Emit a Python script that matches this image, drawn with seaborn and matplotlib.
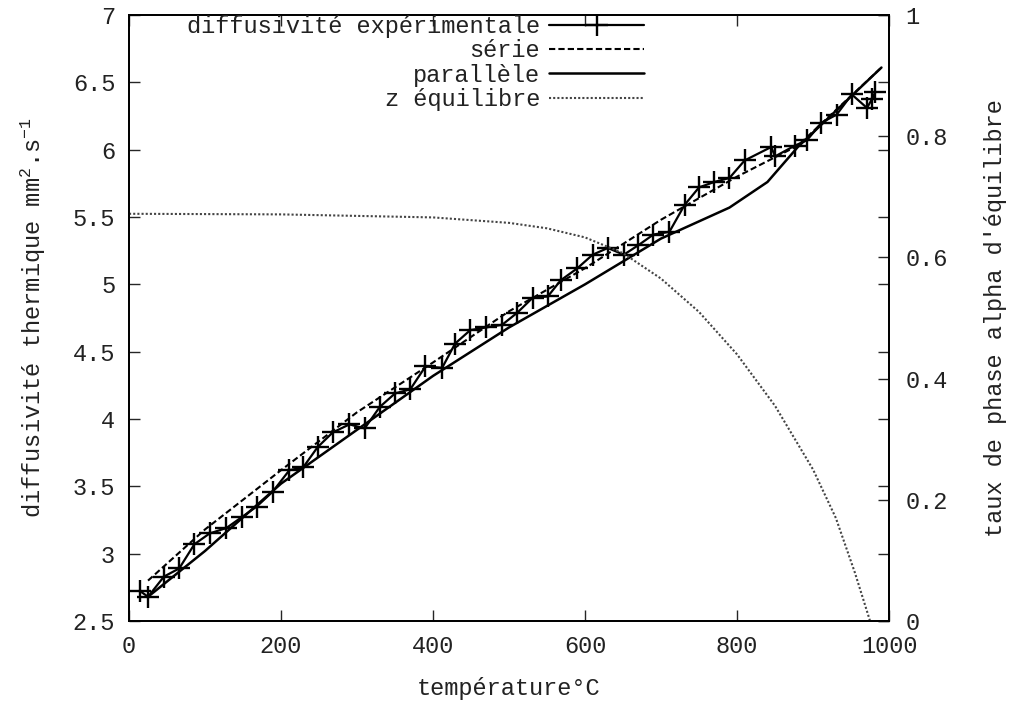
import numpy as np
import pandas as pd
import matplotlib
matplotlib.use('Agg')
import matplotlib.pyplot as plt
from matplotlib.ticker import FuncFormatter, MultipleLocator
import seaborn as sns

# Données
temp_exp = [15, 25, 46, 66, 86, 106, 128, 148, 168, 189, 211, 229, 248, 268, 290,
            310, 330, 350, 370, 390, 412, 429, 449, 470, 491, 511, 531, 551, 568,
            590, 610, 630, 651, 670, 690, 711, 731, 750, 770, 790, 810, 845, 850,
            876, 892, 911, 931, 951, 971, 978, 982]
diff_exp = [2.72, 2.68, 2.83, 2.89, 3.07, 3.15, 3.19, 3.27, 3.35, 3.46, 3.62, 3.64,
            3.79, 3.90, 3.96, 3.93, 4.09, 4.19, 4.22, 4.39, 4.38, 4.56, 4.66, 4.68,
            4.70, 4.79, 4.90, 4.91, 5.03, 5.12, 5.22, 5.27, 5.22, 5.29, 5.37, 5.39,
            5.59, 5.72, 5.76, 5.79, 5.92, 6.02, 5.95, 6.03, 6.07, 6.20, 6.26, 6.41,
            6.31, 6.38, 6.43]

temp_serie = [25, 100, 200, 300, 400, 500, 600, 700, 800, 880, 990]
diff_serie = [2.80, 3.18, 3.62, 4.05, 4.42, 4.80, 5.12, 5.48, 5.80, 6.03, 6.61]

temp_para = [25, 100, 200, 300, 400, 500, 600, 700, 790, 840, 880, 990]
diff_para = [2.68, 3.02, 3.52, 3.92, 4.32, 4.68, 5.00, 5.34, 5.57, 5.76, 6.02, 6.61]

temp_z = [0, 200, 400, 500, 550, 600, 650, 700, 750, 800, 850, 900, 930, 955, 975]
z_eq = [0.672, 0.671, 0.666, 0.657, 0.648, 0.633, 0.607, 0.565, 0.51, 0.44, 0.355,
        0.25, 0.17, 0.08, 0.0]

df_exp = pd.DataFrame({'T': temp_exp, 'D': diff_exp})
df_serie = pd.DataFrame({'T': temp_serie, 'D': diff_serie})
df_para = pd.DataFrame({'T': temp_para, 'D': diff_para})
df_z = pd.DataFrame({'T': temp_z, 'z': z_eq})

sns.set_style('ticks')
plt.rcParams['font.family'] = ['Liberation Mono', 'DejaVu Sans Mono']
plt.rcParams['mathtext.default'] = 'regular'
fs = 17
txt = '#222222'

fig = plt.figure(figsize=(10.12, 7.02), dpi=100)
ax = fig.add_axes([0.1275, 0.1154, 0.751, 0.8632])
ax2 = ax.twinx()

sns.lineplot(data=df_exp, x='T', y='D', ax=ax, color='black', lw=1.6,
             marker='+', markersize=16, markeredgewidth=1.7,
             markeredgecolor='black', markerfacecolor='black', estimator=None,
             sort=False, label='diffusivité expérimentale', legend=False)
sns.lineplot(data=df_serie, x='T', y='D', ax=ax, color='black', lw=1.5,
             linestyle=(0, (3, 1.5)), estimator=None, label='série', legend=False)
sns.lineplot(data=df_para, x='T', y='D', ax=ax, color='black', lw=1.8,
             estimator=None, label='parallèle', legend=False)
sns.lineplot(data=df_z, x='T', y='z', ax=ax2, color='#444444', lw=1.5,
             linestyle=(0, (1, 1)), estimator=None, label='z équilibre', legend=False)

ax.set_xlim(0, 1000)
ax.set_ylim(2.5, 7)
ax2.set_ylim(0, 1)
ax.xaxis.set_major_locator(MultipleLocator(200))
ax.yaxis.set_major_locator(MultipleLocator(0.5))
ax2.yaxis.set_major_locator(MultipleLocator(0.2))
fmt = FuncFormatter(lambda v, p: '%g' % round(v, 3))
ax.xaxis.set_major_formatter(fmt)
ax.yaxis.set_major_formatter(fmt)
ax2.yaxis.set_major_formatter(fmt)

ax.tick_params(direction='in', top=True, right=True, length=8, width=1,
               labelsize=fs, labelcolor=txt, pad=10)
ax.tick_params(axis='y', right=True, labelright=False)
ax2.tick_params(direction='in', length=8, width=1, labelsize=fs,
                labelcolor=txt, pad=12)
for a in (ax, ax2):
    for s in a.spines.values():
        s.set_linewidth(1.3)
        s.set_color('black')

ax.set_xlabel('température°C', fontsize=fs, color=txt, labelpad=14)
ax.set_ylabel('diffusivité thermique mm$^2$.s$^{-1}$', fontsize=fs, color=txt,
              labelpad=18)
ax2.set_ylabel("taux de phase alpha d'équilibre", fontsize=fs, color=txt,
               labelpad=26)

h1, l1 = ax.get_legend_handles_labels()
h2, l2 = ax2.get_legend_handles_labels()
leg = ax2.legend(h1 + h2, l1 + l2, loc='upper right', bbox_to_anchor=(0.696, 1.023),
                 frameon=False, markerfirst=False, fontsize=fs, handlelength=4.0,
                 labelspacing=0.05, handletextpad=0.4, borderaxespad=0.2)
for t in leg.get_texts():
    t.set_color(txt)

fig.savefig('out.png', dpi=100)
